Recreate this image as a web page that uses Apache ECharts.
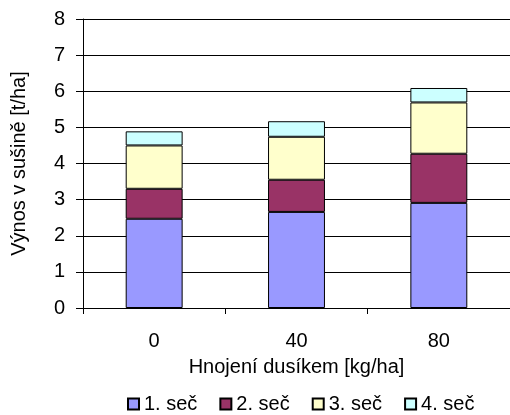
<!DOCTYPE html>
<html><head><meta charset="utf-8">
<script src="https://cdn.jsdelivr.net/npm/echarts@6/dist/echarts.min.js"></script>
<style>html,body{margin:0;padding:0;background:#fff}#c{width:510px;height:415px}</style>
</head><body><div id="c"></div>
<script>
const categories = ['0', '40', '80'];
const sec1 = [2.47, 2.66, 2.91];
const sec2 = [0.83, 0.89, 1.36];
const sec3 = [1.20, 1.19, 1.42];
const sec4 = [0.39, 0.43, 0.40];
const seriesNames = ['1. seč', '2. seč', '3. seč', '4. seč'];
const colors = ['#9999FF', '#993366', '#FFFFCC', '#CCFFFF'];
const yTicks = [0, 8, 1];

const font = 'Liberation Sans, Arial, sans-serif';
const fs = 20;
const chart = echarts.init(document.getElementById('c'));
const mk = (name, data, color) => ({
  name, type: 'bar', stack: 'a', data, barWidth: '40%',
  itemStyle: { color, borderColor: '#000', borderWidth: 1 }
});
chart.setOption({
  animation: false,
  textStyle: { fontFamily: font },
  grid: { left: 83, top: 19, bottom: 107, right: -13 },
  legend: {
    top: 394, left: 127, padding: 0, itemWidth: 11, itemHeight: 11, itemGap: 22,
    textStyle: { fontSize: fs, color: '#000', fontFamily: font },
    icon: 'rect', data: seriesNames
  },
  xAxis: {
    type: 'category', data: categories,
    name: 'Hnojení dusíkem [kg/ha]', nameLocation: 'middle', nameGap: 49,
    nameTextStyle: { fontSize: fs, color: '#000', fontFamily: font },
    axisLine: { lineStyle: { color: '#000', width: 1 } },
    axisTick: { show: true, length: 6, lineStyle: { color: '#000' } },
    axisLabel: { fontSize: fs, color: '#000', margin: 23, fontFamily: font }
  },
  yAxis: {
    type: 'value', min: yTicks[0], max: yTicks[1], interval: yTicks[2],
    name: 'Výnos v sušině [t/ha]', nameLocation: 'middle', nameGap: 54,
    nameTextStyle: { fontSize: fs, color: '#000', fontFamily: font },
    axisLine: { show: true, lineStyle: { color: '#000', width: 1 } },
    axisTick: { show: true, length: 7, lineStyle: { color: '#000' } },
    axisLabel: { fontSize: fs, color: '#000', margin: 18, fontFamily: font },
    splitLine: { lineStyle: { color: '#000', width: 1 } }
  },
  series: [
    mk(seriesNames[0], sec1, colors[0]),
    mk(seriesNames[1], sec2, colors[1]),
    mk(seriesNames[2], sec3, colors[2]),
    mk(seriesNames[3], sec4, colors[3])
  ]
});
</script></body></html>
